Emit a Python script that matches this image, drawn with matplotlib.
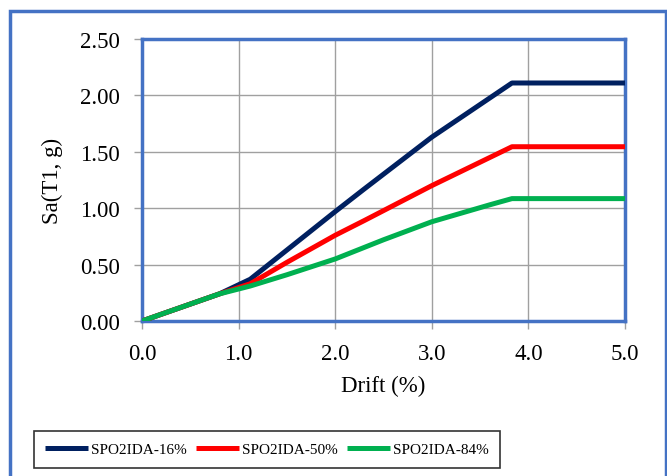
import matplotlib
matplotlib.use("Agg")
import matplotlib.pyplot as plt
from matplotlib.patches import Rectangle

drift_16 = [0.0, 0.8, 1.12, 2.0, 2.3, 3.0, 3.83, 5.0]
sa_16 = [0.0, 0.24, 0.37, 0.97, 1.17, 1.63, 2.11, 2.11]

drift_50 = [0.0, 0.8, 1.12, 1.5, 2.0, 2.3, 3.0, 3.83, 5.0]
sa_50 = [0.0, 0.24, 0.33, 0.52, 0.76, 0.89, 1.20, 1.545, 1.545]

drift_84 = [0.0, 0.8, 1.12, 1.5, 2.0, 2.5, 3.0, 3.6, 3.83, 5.0]
sa_84 = [0.0, 0.24, 0.31, 0.41, 0.55, 0.72, 0.88, 1.03, 1.085, 1.085]

labels = ["SPO2IDA-16%", "SPO2IDA-50%", "SPO2IDA-84%"]
colors = ["#002060", "#FF0000", "#00B050"]

plt.rcParams["font.family"] = ["Liberation Serif", "DejaVu Serif"]

fig = plt.figure(figsize=(6.67, 4.77), dpi=100)

# outer chart frame
fig.patches.append(Rectangle((10 / 667, -0.05), 656 / 667, 1.05 - 12 / 477,
                             transform=fig.transFigure, fill=False,
                             edgecolor="#4472C4", linewidth=2.5, zorder=0))

ax = fig.add_axes([142 / 667, 155 / 477, 483 / 667, 282 / 477])

for x, y, lab, c in zip([drift_16, drift_50, drift_84], [sa_16, sa_50, sa_84], labels, colors):
    ax.plot(x, y, color=c, linewidth=3.6, label=lab, solid_capstyle="butt", zorder=3)

ax.set_xlim(0, 5)
ax.set_ylim(0, 2.5)
ax.set_xticks([0, 1, 2, 3, 4, 5])
ax.set_xticklabels(["0.0", "1.0", "2.0", "3.0", "4.0", "5.0"])
ax.set_yticks([0, 0.5, 1.0, 1.5, 2.0, 2.5])
ax.set_yticklabels(["0.00", "0.50", "1.00", "1.50", "2.00", "2.50"])
ax.grid(True, color="#a0a0a0", linewidth=1.0)
ax.set_axisbelow(True)
ax.tick_params(labelsize=16.5, color="#a0a0a0", length=6, width=1, pad=10)
for s in ax.spines.values():
    s.set_color("#4472C4")
    s.set_linewidth(2.5)

ax.set_xlabel("Drift (%)", fontsize=16.5, labelpad=8)
ax.set_ylabel("Sa(T1, g)", fontsize=16.5, labelpad=12)

leg = fig.legend(loc="center", bbox_to_anchor=(267 / 667, 26.5 / 477),
                 ncol=3, fontsize=11, frameon=True, fancybox=False,
                 edgecolor="black", handlelength=2.8, handletextpad=0.2,
                 borderaxespad=0, columnspacing=0.6, borderpad=0.75)
leg.get_frame().set_linewidth(1.2)

fig.savefig("out.png", dpi=100)
